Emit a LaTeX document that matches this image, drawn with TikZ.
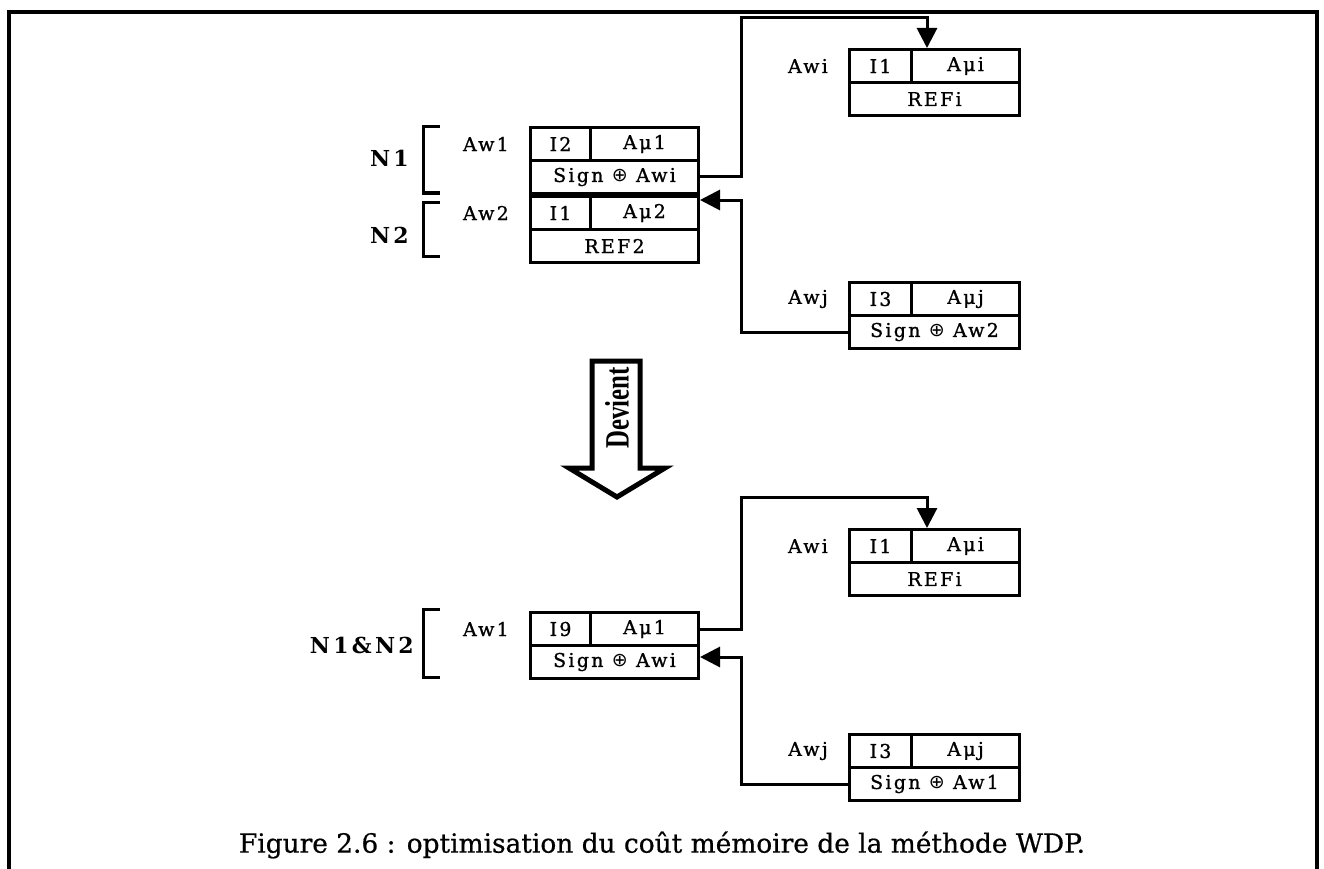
\documentclass[tikz,border=0pt]{standalone}
\usepackage{fontspec}
\setmainfont{DejaVu Serif}
\newfontfamily\cellfont[LetterSpace=12, FakeBold=1]{DejaVu Serif}
\newfontfamily\symfont{DejaVu Sans}
\newfontfamily\tagfont[LetterSpace=15]{DejaVu Serif}
\newfontfamily\capfont[FakeBold=0.6]{DejaVu Serif}
\newfontfamily\arrowfont{Liberation Serif}
\usetikzlibrary{calc}
\usetikzlibrary{positioning}
\usetikzlibrary{arrows.meta}

\tikzset{
    cell/.style={draw, line width=3pt, inner sep=0pt, minimum height=33pt,
        anchor=north west, font=\cellfont\fontsize{19}{21}\selectfont},
    addr/.style={inner sep=0pt, font=\cellfont\fontsize{19}{21}\selectfont},
    tag/.style={inner sep=0pt, anchor=east, font=\tagfont\bfseries\fontsize{22}{24}\selectfont},
    bracket/.style={line width=3pt},
    link/.style={line width=3pt, -{Triangle[length=20pt,width=20pt]}}
}

\begin{document}
\begin{tikzpicture}[x=1pt, y=-1pt]
    \useasboundingbox (0,0) rectangle (1324,869);

    % 1. Draw the frame (open at the bottom)
    \draw[line width=4pt] (9,869) -- (9,12) -- (1317,12) -- (1317,869);

    % 2. Draw the records: name/x/y/width/left cell/address/index/pointer/last row
    \foreach \nm/\x/\y/\w/\l/\o/\a/\b/\c in {
        n1/529/126/168/60/Aw1/I2/Aμ1/{Sign {\symfont ⊕} Awi},
        n2/529/195/168/60/Aw2/I1/Aμ2/REF2,
        wi/848/48/170/62/Awi/I1/Aμi/REFi,
        wj/848/281/170/62/Awj/I3/Aμj/{Sign {\symfont ⊕} Aw2},
        m12/529/611/168/60/Aw1/I9/Aμ1/{Sign {\symfont ⊕} Awi},
        wi2/848/528/170/62/Awi/I1/Aμi/REFi,
        wj2/848/733/170/62/Awj/I3/Aμj/{Sign {\symfont ⊕} Aw1}} {
        \node[cell, minimum width={\l*1pt}] (\nm-a) at (\x,\y) {\a};
        \node[cell, minimum width={(\w-\l)*1pt}] (\nm-b) at ({\x+\l},\y) {\b};
        \node[cell, minimum width={\w*1pt}] (\nm-c) at (\x,{\y+33}) {\c};
        \node[addr, left=20pt of \nm-a] (\nm-o) {\o};
    }

    % 3. Brackets and group names
    \draw[bracket] (440,127) -- (423,127) -- (423,193) -- (440,193);
    \draw[bracket] (440,202) -- (423,202) -- (423,256) -- (440,256);
    \draw[bracket] (440,609) -- (423,609) -- (423,677) -- (440,677);
    \node[tag] (lbN1) at (409,158) {N1};
    \node[tag] (lbN2) at (409,235) {N2};
    \node[tag] (lbN12) at (414,645) {N1\&N2};

    % 4. Links between the records
    \coordinate (up1) at (741,18);
    \coordinate (back1) at (741,200);
    \coordinate (up2) at (741,497);
    \coordinate (back2) at (741,657);
    \draw[link] (n1-c.east) -| (up1) -| ($(wi-b.north west)+(17,0)$);
    \draw[link] (wj-c.west) -| (back1) -- (back1 -| n2-b.east);
    \draw[link] (m12-b.east) -| (up2) -| ($(wi2-b.north west)+(17,0)$);
    \draw[link] (wj2-c.west) -| (back2) -- (back2 -| m12-c.east);

    % 5. The hollow arrow "Devient"
    \draw[line width=5pt] (592,361) -- (640,361) -- (640,468) -- (665,468)
        -- (617,497) -- (569,468) -- (592,468) -- cycle;
    \node[rotate=90, inner sep=0pt, font=\arrowfont\bfseries\fontsize{34}{36}\selectfont]
        (devient) at (617,408) {\scalebox{0.73}[1]{Devient}};

    % 6. Caption
    \node[font=\capfont\fontsize{26.4}{30}\selectfont] (caption) at (662,845)
        {Figure 2.6 : optimisation du coût mémoire de la méthode WDP.};

\end{tikzpicture}
\end{document}
